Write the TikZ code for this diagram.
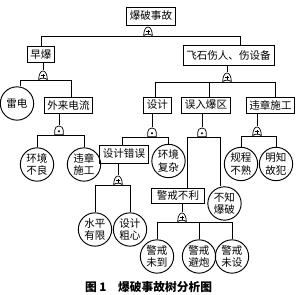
\documentclass[tikz,border=0pt]{standalone}
\usepackage{fontspec}
\newfontfamily\cjk{Noto Sans CJK SC}
\usetikzlibrary{positioning}

\begin{document}
\begin{tikzpicture}[
    x=0.3mm, y=-0.3mm,
    line width=0.8pt,
    every node/.style={font=\cjk\fontsize{9}{10.5}\selectfont},
    evt/.style={draw, rectangle, inner xsep=1mm, inner ysep=0pt, minimum height=4.8mm},
    basic/.style={draw, circle, inner sep=0pt, minimum size=10mm, align=center},
    gate/.style={inner sep=0pt, minimum width=3mm, minimum height=2.8mm},
    orgate/.style={gate, path picture={
      \draw[line width=0.6pt] ([shift={(-1.3mm,-1.3mm)}]path picture bounding box.center)
        .. controls ([shift={(-1.3mm,0.2mm)}]path picture bounding box.center)
        and ([shift={(-0.7mm,1.3mm)}]path picture bounding box.center)
        .. ([shift={(0mm,1.3mm)}]path picture bounding box.center)
        .. controls ([shift={(0.7mm,1.3mm)}]path picture bounding box.center)
        and ([shift={(1.3mm,0.2mm)}]path picture bounding box.center)
        .. ([shift={(1.3mm,-1.3mm)}]path picture bounding box.center)
        .. controls ([shift={(0.5mm,-0.7mm)}]path picture bounding box.center)
        and ([shift={(-0.5mm,-0.7mm)}]path picture bounding box.center)
        .. ([shift={(-1.3mm,-1.3mm)}]path picture bounding box.center) -- cycle;
      \draw[line width=0.6pt] ([shift={(-0.6mm,-0.1mm)}]path picture bounding box.center)
        -- ([shift={(0.6mm,-0.1mm)}]path picture bounding box.center);
      \draw[line width=0.6pt] ([shift={(0mm,-0.7mm)}]path picture bounding box.center)
        -- ([shift={(0mm,0.5mm)}]path picture bounding box.center);
    }},
    andgate/.style={gate, path picture={
      \draw[line width=0.6pt] ([shift={(-1.3mm,-1.3mm)}]path picture bounding box.center)
        -- ([shift={(-1.3mm,0mm)}]path picture bounding box.center)
        arc (180:0:1.3mm)
        -- ([shift={(1.3mm,-1.3mm)}]path picture bounding box.center) -- cycle;
      \fill ([shift={(0mm,-0.3mm)}]path picture bounding box.center) circle (0.35mm);
    }},
  ]

  \useasboundingbox (0,0) rectangle (299,295);

  %%% Top event
  \node[evt, minimum height=5.4mm] (top) at (151,16) {爆破事故};
  \node[orgate] (g0) at (148,31.3) {};

  %%% Left branch: premature blast
  \node[evt] (zb) at (41,54.5) {早爆};
  \node[orgate] (g1) at (43,75.3) {};
  \node[basic] (ld) at (17,103.5) {雷电};
  \node[evt] (wl) at (68.5,105) {外来电流};
  \node[andgate] (g2) at (59,130.3) {};
  \node[basic] (hjbl) at (37,164.5) {环境\\不良};
  \node[basic] (wzsg) at (84,164.5) {违章\\施工};

  %%% Right branch: flying rock
  \node[evt, minimum height=6mm] (fs) at (228.5,55) {飞石伤人、伤设备};
  \node[orgate] (g3) at (227,77.3) {};
  \node[evt] (sj) at (157.5,105) {设计};
  \node[evt] (wr) at (206,105) {误入爆区};
  \node[evt] (wz) at (270.5,105) {违章施工};

  % design
  \node[andgate] (g4) at (152,132.3) {};
  \node[evt, minimum height=5.4mm] (sjcw) at (124,154) {设计错误};
  \node[basic] (hjfz) at (168.5,161) {环境\\复杂};
  \node[orgate] (g7) at (118,180.3) {};
  \node[basic] (spyx) at (95,229.5) {水平\\有限};
  \node[basic] (sjcx) at (130,229.5) {设计\\粗心};

  % entering the blast zone
  \node[andgate] (g5) at (202,132.3) {};
  \node[evt, minimum height=4.5mm, minimum width=16mm] (jjbl) at (178,195.5) {警戒不利};
  \node[basic] (bzbp) at (224.5,203.5) {不知\\爆破};
  \node[orgate] (g8) at (182,217.3) {};
  \node[basic] (jjwd) at (157,256.5) {警戒\\未到};
  \node[basic] (jjbp) at (199,256.5) {警戒\\避炮};
  \node[basic] (jjws) at (232,256.5) {警戒\\未设};

  % illegal work
  \node[orgate] (g6) at (257,131.3) {};
  \node[basic] (gcbs) at (241,164) {规程\\不熟};
  \node[basic] (mzgf) at (276,164) {明知\\故犯};

  %%% Connectors
  \draw (g0 |- top.south) -- (g0.north);
  \draw (g0.south) -| (zb.north);
  \draw (g0.south) -| ([xshift=3.5mm]fs.north);

  \draw (g1 |- zb.south) -- (g1.north);
  \draw (g1.south) -| ([xshift=0.9mm]ld.north);
  \draw (g1.south) -| ([xshift=1mm]wl.north);
  \draw (g2 |- wl.south) -- (g2.north);
  \draw (g2.south) -| (hjbl.north);
  \draw (g2.south) -| (wzsg.north);

  \draw (g3 |- fs.south) -- (g3.north);
  \draw (g3.south) -| ([xshift=-0.75mm]sj.north);
  \draw (g3.south) -| ([xshift=0.9mm]wr.north);
  \draw (g3.south) -| ([xshift=1.35mm]wz.north);

  \draw (g4 |- sj.south) -- (g4.north);
  \draw (g4.south) -| ([xshift=-0.6mm]sjcw.north);
  \draw (g4.south) -| (hjfz.north);
  \draw (g7 |- sjcw.south) -- (g7.north);
  \draw (g7.south) -| (spyx.north);
  \draw (g7.south) -| (sjcx.north);

  \draw (g5 |- wr.south) -- (g5.north);
  \draw (g5.south) -| ([xshift=2.7mm]jjbl.north);
  \draw (g5.south) -| ([xshift=-1.3mm]bzbp.north);
  \draw (g8 |- jjbl.south) -- (g8.north);
  \draw (g8.south) -| (jjwd.north);
  \draw (g8.south) -| (jjbp.north);
  \draw (g8.south) -| (jjws.north);

  \draw (g6 |- wz.south) -- (g6.north);
  \draw (g6.south) -| (gcbs.north);
  \draw (g6.south) -| (mzgf.north);

  %%% Caption
  \node[font=\cjk\bfseries\fontsize{10}{12}\selectfont] (cap) at (148.5,287)
    {图 1\quad 爆破事故树分析图};

\end{tikzpicture}
\end{document}
